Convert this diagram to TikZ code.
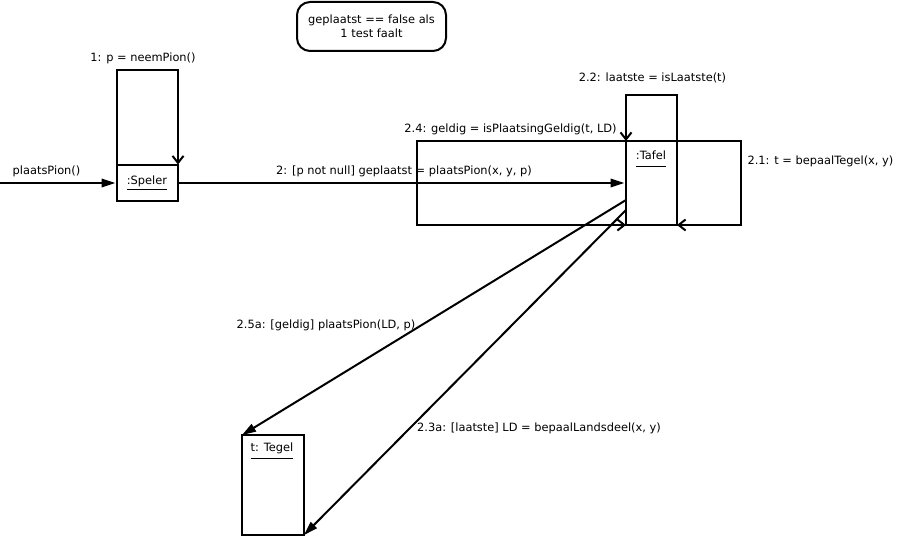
\documentclass[tikz,border=0pt]{standalone}
\usepackage{fontspec}
\setmainfont{DejaVu Sans}
\usetikzlibrary{arrows.meta}
\begin{document}
\begin{tikzpicture}[x=1pt,y=-1pt,
  font=\fontsize{11.4}{14}\selectfont,
  every node/.style={inner sep=0pt,outer sep=0pt},
  obj/.style={draw,line width=2pt,fill=none},
  lbl/.style={anchor=center},
  msg/.style={line width=2pt,-{Triangle[length=14pt,width=8.5pt]},shorten >=1.5pt},
  selfmsg/.style={line width=2pt,-{Straight Barb[length=7pt,width=11pt,line width=2pt]}},
  uline/.style={line width=1pt}]
\useasboundingbox[fill=white] (0,0) rectangle (897,543);

% objects
\node[obj,minimum width=61pt,minimum height=36pt] (speler) at (147.5,182.5) {};
\node (spelerName) at (147,181) {:Speler};
\draw[uline] ([yshift=-5pt]spelerName.base west) -- ([yshift=-5pt]spelerName.base east);

\node[obj,minimum width=51pt,minimum height=84pt] (tafel) at (651.5,183) {};
\node (tafelName) at (651,155) {:Tafel};
\draw[uline] ([yshift=-7pt]tafelName.base west) -- ([yshift=-7pt]tafelName.base east);

\node[obj,minimum width=62pt,minimum height=100pt] (tegel) at (273,485) {};
\node (tegelName) at (272,448) {t: Tegel};
\draw[uline] ([yshift=-7pt]tegelName.base west) -- ([yshift=-7pt]tegelName.base east);

% note
\node[draw,line width=2pt,rounded corners=13pt,minimum width=149pt,minimum height=49pt,align=center] (note) at (371.5,26.5) {geplaatst == false als\\1 test faalt};

% incoming message
\coordinate (start) at (0,183);
\draw[msg] (start) -- (start -| speler.west);
\node[lbl] (lblIn) at (46.5,171) {plaatsPion()};

% self message on Speler
\draw[selfmsg] (speler.north west) -- (117,70) -- (178,70) -- (speler.north east);
\node[lbl] (lbl1) at (143,58) {1: p = neemPion()};

% Speler -> Tafel
\draw[msg] (start -| speler.east) -- (start -| tafel.west);
\node[lbl] (lbl2) at (404,171) {2: [p not null] geplaatst = plaatsPion(x, y, p)};

% self messages on Tafel
\draw[selfmsg] (tafel.north east) -- (741,141) -- (741,225) -- (tafel.south east);
\node[lbl] (lbl21) at (820.5,161) {2.1: t = bepaalTegel(x, y)};

\draw[selfmsg] (tafel.north east) -- (677,95) -- (626,95) -- (tafel.north west);
\node[lbl] (lbl22) at (652.5,78) {2.2: laatste = isLaatste(t)};

\draw[selfmsg] (tafel.north west) -- (417,141) -- (417,225) -- (tafel.south west);
\node[lbl] (lbl24) at (510.5,129) {2.4: geldig = isPlaatsingGeldig(t, LD)};

% Tafel -> Tegel
\draw[msg,shorten >=0pt] ([yshift=-17pt]tafel.west) -- (tegel.north west);
\node[lbl] (lbl25) at (326,325) {2.5a: [geldig] plaatsPion(LD, p)};

\draw[msg,shorten >=0pt] ([yshift=-27pt]tafel.west) -- (tegel.south east);
\node[lbl] (lbl23) at (539,428) {2.3a: [laatste] LD = bepaalLandsdeel(x, y)};
\end{tikzpicture}
\end{document}
